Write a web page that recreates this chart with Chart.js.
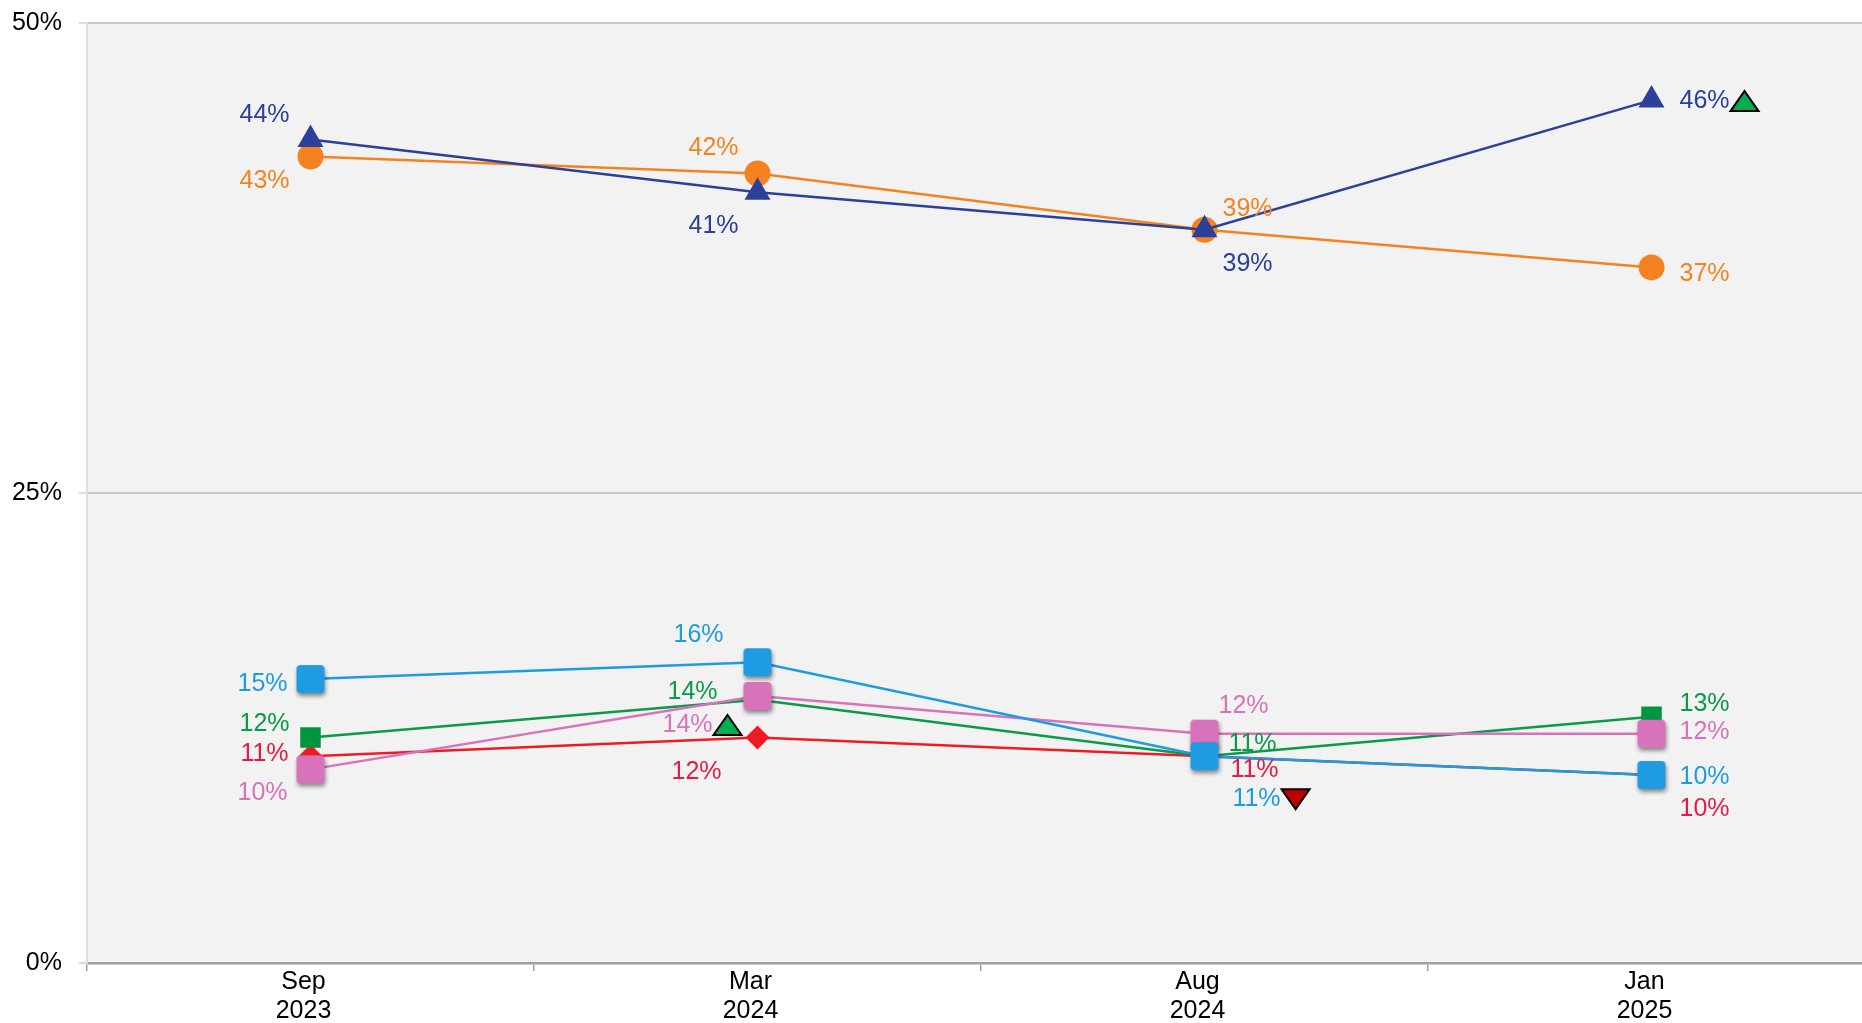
<!DOCTYPE html>
<html lang="en">
<head>
    <meta charset="UTF-8">
    <title>Trend chart</title>
    <script src="https://cdn.jsdelivr.net/npm/chart.js"></script>
    <style>
        html, body { margin: 0; padding: 0; background: #fff; overflow: hidden; }
        #chart { display: block; }
    </style>
</head>
<body>
    <canvas id="chart" width="1876" height="1023"></canvas>
    <script>
        // categories and values
        const periods = [['Sep', '2023'], ['Mar', '2024'], ['Aug', '2024'], ['Jan', '2025']];
        const yTicks = [0, 25, 50];

        const navyValues = [43.8, 41.0, 39.0, 45.9];
        const orangeValues = [42.9, 42.0, 39.0, 37.0];
        const blueValues = [15.1, 16.0, 11.0, 10.0];
        const greenValues = [12.0, 14.0, 11.0, 13.1];
        const redValues = [11.0, 12.0, 11.0, 10.0];
        const pinkValues = [10.3, 14.2, 12.2, 12.2];

        // significance markers next to some labels
        const navyFlags = [null, null, null, 'up'];
        const pinkFlags = [null, 'up', null, null];
        const blueFlags = [null, null, 'down', null];

        const FONT = '"Liberation Sans", Arial, sans-serif';

        function squareImage(color, side) {
            const pad = 8;
            const c = document.createElement('canvas');
            c.width = c.height = side + pad * 2;
            const g = c.getContext('2d');
            g.shadowColor = 'rgba(0,0,0,0.45)';
            g.shadowBlur = 4;
            g.shadowOffsetX = 1;
            g.shadowOffsetY = 3;
            g.fillStyle = color;
            g.beginPath();
            g.roundRect(pad, pad, side, side, 4);
            g.fill();
            return c;
        }

        function drawFlag(ctx, cx, cy, kind) {
            ctx.save();
            ctx.beginPath();
            if (kind === 'up') {
                ctx.moveTo(cx - 14, cy + 10);
                ctx.lineTo(cx + 14, cy + 10);
                ctx.lineTo(cx, cy - 10);
                ctx.fillStyle = '#00b050';
            } else {
                ctx.moveTo(cx - 14, cy - 10);
                ctx.lineTo(cx + 14, cy - 10);
                ctx.lineTo(cx, cy + 10);
                ctx.fillStyle = '#c00000';
            }
            ctx.closePath();
            ctx.fill();
            ctx.lineWidth = 2;
            ctx.strokeStyle = '#000';
            ctx.stroke();
            ctx.restore();
        }

        const plotBackground = {
            id: 'plotBackground',
            beforeDraw(chart) {
                const a = chart.chartArea;
                chart.ctx.save();
                chart.ctx.fillStyle = '#f2f2f2';
                chart.ctx.fillRect(a.left, a.top, a.right - a.left, a.bottom - a.top);
                chart.ctx.restore();
            }
        };

        const pointLabels = {
            id: 'pointLabels',
            afterDatasetsDraw(chart) {
                const ctx = chart.ctx;
                ctx.save();
                ctx.font = '25px ' + FONT;
                ctx.textAlign = 'center';
                ctx.textBaseline = 'middle';
                chart.data.datasets.forEach((ds, di) => {
                    const meta = chart.getDatasetMeta(di);
                    meta.data.forEach((pt, i) => {
                        const off = ds.labelOffsets[i];
                        const text = Math.round(ds.data[i]) + '%';
                        const x = pt.x + off[0], y = pt.y + off[1] + 2;
                        ctx.fillStyle = ds.labelColor;
                        ctx.fillText(text, x, y);
                        const flag = ds.flags && ds.flags[i];
                        if (flag) {
                            const w = ctx.measureText(text).width;
                            drawFlag(ctx, x + w / 2 + 15, y, flag);
                        }
                    });
                });
                ctx.restore();
            }
        };

        // first dataset is drawn on top
        const datasets = [
            {
                data: blueValues, borderColor: '#1e9be1', backgroundColor: '#1e9be1',
                pointStyle: squareImage('#1e9be1', 28), labelColor: '#1e9be1', flags: blueFlags,
                labelOffsets: [[-48, 3], [-59, -29], [52, 41], [53, 0]]
            },
            {
                data: pinkValues, borderColor: '#d873bb', backgroundColor: '#d873bb',
                pointStyle: squareImage('#d873bb', 28), labelColor: '#d873bb', flags: pinkFlags,
                labelOffsets: [[-48, 22], [-70, 27], [39, -30], [53, -4]]
            },
            {
                data: greenValues, borderColor: '#0a9a48', backgroundColor: '#00963f',
                pointStyle: 'rect', pointRadius: 14.5, labelColor: '#0a9a48',
                labelOffsets: [[-46, -15], [-65, -10], [48, -14], [53, -15]]
            },
            {
                data: redValues, borderColor: '#ed1c24', backgroundColor: '#ed1c24',
                pointStyle: 'rectRot', pointRadius: 12, labelColor: '#e41c44',
                labelOffsets: [[-46, -4], [-61, 33], [50, 12], [53, 32]]
            },
            {
                data: navyValues, borderColor: '#2b4099', backgroundColor: '#2b4099',
                pointStyle: 'triangle', pointRadius: 15, labelColor: '#2b4099', flags: navyFlags,
                labelOffsets: [[-46, -26], [-44, 32], [43, 32], [53, -1]]
            },
            {
                data: orangeValues, borderColor: '#f58220', backgroundColor: '#f58220',
                pointStyle: 'circle', pointRadius: 13, labelColor: '#f58220',
                labelOffsets: [[-46, 23], [-44, -27], [43, -23], [53, 5]]
            }
        ].map(d => Object.assign({
            borderWidth: 2.5,
            pointBorderWidth: 0,
            pointRadius: 13,
            tension: 0,
            fill: false
        }, d));

        new Chart(document.getElementById('chart'), {
            type: 'line',
            data: { labels: periods, datasets: datasets },
            options: {
                responsive: false,
                animation: false,
                layout: { autoPadding: false, padding: { top: 23, right: 1, left: 0, bottom: 0 } },
                plugins: { legend: { display: false }, tooltip: { enabled: false } },
                scales: {
                    x: {
                        offset: true,
                        grid: { offset: true, drawOnChartArea: false, drawTicks: true, tickLength: 8, color: '#a0a0a0', lineWidth: 1.5 },
                        border: { color: '#a0a0a0', width: 2.5 },
                        ticks: {
                            color: '#000', font: { family: FONT, size: 25, lineHeight: 1.15 },
                            padding: -3, labelOffset: -7, maxRotation: 0, autoSkip: false
                        },
                        afterFit(scale) {
                            scale.height = 60;
                            scale.paddingLeft = 0;
                            scale.paddingRight = 0;
                        }
                    },
                    y: {
                        min: 0, max: 50,
                        afterBuildTicks(scale) { scale.ticks = yTicks.map(v => ({ value: v })); },
                        grid: {
                            color: ctx => ctx.tick && ctx.tick.value === 0 ? '#a0a0a0' : '#c8c8c8',
                            tickColor: '#dcdcdc',
                            lineWidth: 2,
                            tickLength: 8
                        },
                        border: { color: '#dcdcdc', width: 2 },
                        ticks: { color: '#000', font: { family: FONT, size: 25 }, padding: 17, callback: v => v + '%' },
                        afterFit(scale) {
                            scale.width = 87;
                            scale.paddingTop = 0;
                            scale.paddingBottom = 0;
                        }
                    }
                }
            },
            plugins: [plotBackground, pointLabels]
        });
    </script>
</body>
</html>
